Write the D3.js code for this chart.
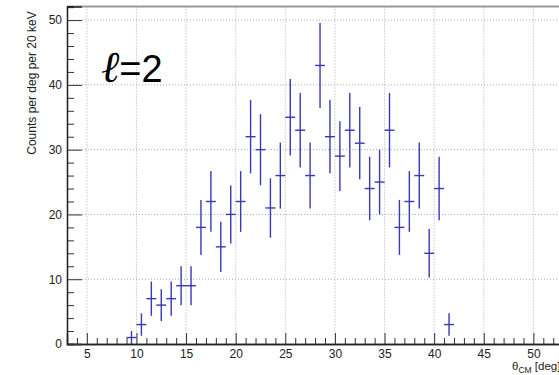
<!DOCTYPE html>
<html>
<head>
<meta charset="utf-8">
<script src="https://cdn.jsdelivr.net/npm/d3@7"></script>
<style>
  body { margin: 0; background: #fff; }
  svg { display: block; }
</style>
</head>
<body>
<script>
// bin centres (deg) and counts per bin
var angles = [9.5, 10.5, 11.5, 12.5, 13.5, 14.5, 15.5, 16.5, 17.5, 18.5, 19.5,
              20.5, 21.5, 22.5, 23.5, 24.5, 25.5, 26.5, 27.5, 28.5, 29.5,
              30.5, 31.5, 32.5, 33.5, 34.5, 35.5, 36.5, 37.5, 38.5, 39.5,
              40.5, 41.5];
var counts = [1, 3, 7, 6, 7, 9, 9, 18, 22, 15, 20,
              22, 32, 30, 21, 26, 35, 33, 26, 43, 32,
              29, 33, 31, 24, 25, 33, 18, 22, 26, 14,
              24, 3];
var xTicks = [5, 10, 15, 20, 25, 30, 35, 40, 45, 50];
var yTicks = [0, 10, 20, 30, 40, 50];

var W = 559, H = 375;
var frameLeft = 67, frameBottom = 344, frameTop = 6.5;
var font = "Liberation Sans, Arial, sans-serif";

var svg = d3.select("body").append("svg")
    .attr("width", W)
    .attr("height", H);

// scales (right side of the frame is cut off like in the original)
var x = d3.scaleLinear().domain([3, 55]).range([frameLeft, 583]);
var y = d3.scaleLinear().domain([0, 52.1]).range([frameBottom, frameTop]);

// grid
svg.append("g").selectAll("line")
    .data(xTicks)
  .enter().append("line")
    .attr("x1", function(d) { return x(d); })
    .attr("x2", function(d) { return x(d); })
    .attr("y1", frameTop)
    .attr("y2", frameBottom)
    .attr("stroke", "#aaa")
    .attr("stroke-dasharray", "1,2");
svg.append("g").selectAll("line")
    .data(yTicks.filter(function(d) { return d > 0; }))
  .enter().append("line")
    .attr("x1", frameLeft)
    .attr("x2", W)
    .attr("y1", function(d) { return y(d); })
    .attr("y2", function(d) { return y(d); })
    .attr("stroke", "#aaa")
    .attr("stroke-dasharray", "1,2");

// top frame
svg.append("line")
    .attr("x1", frameLeft).attr("x2", W)
    .attr("y1", frameTop).attr("y2", frameTop)
    .attr("stroke", "#999")
    .attr("stroke-width", 2);

// x axis, ticks point into the frame (ROOT style)
var xMinor = d3.range(4, 56, 1).filter(function(d) { return d % 5 != 0; });
var xAxis = svg.append("g")
    .attr("transform", "translate(0," + frameBottom + ")");
xAxis.call(d3.axisBottom(x).tickValues(xMinor).tickSize(-6).tickFormat(""));
xAxis.append("g")
    .call(d3.axisBottom(x).tickValues(xTicks).tickSize(-11));
xAxis.selectAll(".domain").attr("stroke", "#222").attr("stroke-width", 1.3);
xAxis.selectAll(".tick line").attr("stroke", "#333");
xAxis.selectAll("text")
    .attr("font-family", font)
    .attr("font-size", 12)
    .attr("fill", "#222")
    .attr("y", 5);

// y axis
var yMinor = d3.range(2, 53, 2).filter(function(d) { return d % 10 != 0; });
var yAxis = svg.append("g")
    .attr("transform", "translate(" + frameLeft + ",0)");
yAxis.call(d3.axisLeft(y).tickValues(yMinor).tickSize(-7).tickFormat(""));
yAxis.append("g")
    .call(d3.axisLeft(y).tickValues(yTicks).tickSize(-15));
yAxis.selectAll(".domain").attr("stroke", "#222").attr("stroke-width", 1.3);
yAxis.selectAll(".tick line").attr("stroke", "#333");
yAxis.selectAll("text")
    .attr("font-family", font)
    .attr("font-size", 12)
    .attr("fill", "#222")
    .attr("x", -5);

// data: Poisson error bars with bin-width horizontal bars
var pts = angles.map(function(a, i) { return { x: a, n: counts[i] }; });
var marks = svg.append("g")
    .attr("stroke", "#3838b8")
    .attr("stroke-width", 1.4);
marks.selectAll(".ey")
    .data(pts)
  .enter().append("line")
    .attr("class", "ey")
    .attr("x1", function(d) { return x(d.x); })
    .attr("x2", function(d) { return x(d.x); })
    .attr("y1", function(d) { return y(d.n + Math.sqrt(d.n)); })
    .attr("y2", function(d) { return y(Math.max(0, d.n - Math.sqrt(d.n))); });
marks.selectAll(".ex")
    .data(pts)
  .enter().append("line")
    .attr("class", "ex")
    .attr("x1", function(d) { return x(d.x - 0.5); })
    .attr("x2", function(d) { return x(d.x + 0.5); })
    .attr("y1", function(d) { return y(d.n); })
    .attr("y2", function(d) { return y(d.n); });

// axis titles
svg.append("text")
    .attr("transform", "translate(36,83) rotate(-90)")
    .attr("text-anchor", "middle")
    .attr("font-family", font)
    .attr("font-size", 12)
    .attr("fill", "#222")
    .text("Counts per deg per 20 keV");

var xt = svg.append("text")
    .attr("x", 512)
    .attr("y", 370)
    .attr("font-family", font)
    .attr("font-size", 11.5)
    .attr("fill", "#222");
xt.append("tspan").text("θ");
xt.append("tspan").attr("font-size", 8.5).attr("dy", 3).text("CM");
xt.append("tspan").attr("dy", -3).text(" [deg]");

// l=2 label
var lab = svg.append("text")
    .attr("x", 101)
    .attr("y", 82)
    .attr("font-family", font)
    .attr("font-size", 38)
    .attr("fill", "#000");
lab.append("tspan")
    .attr("font-family", "DejaVu Serif, serif")
    .attr("font-style", "italic")
    .attr("font-size", 44)
    .text("ℓ");
lab.append("tspan").text("=2");
</script>
</body>
</html>
